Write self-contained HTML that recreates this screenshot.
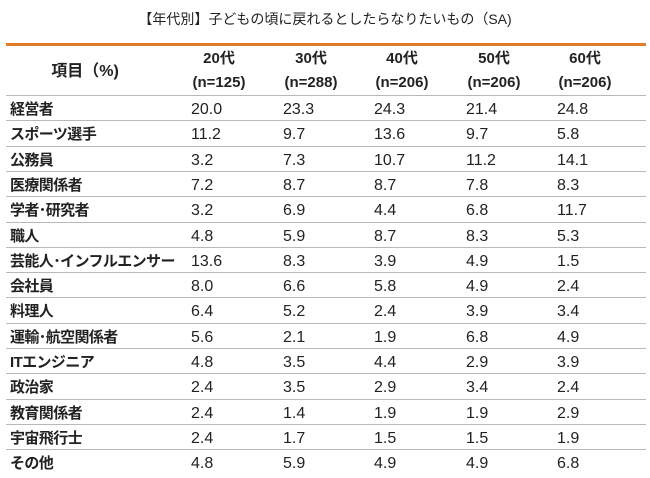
<!DOCTYPE html>
<html><head><meta charset="utf-8">
<style>
body{margin:0;width:650px;height:478px;background:#fff;font-family:"Liberation Sans","Noto Sans CJK JP",sans-serif;color:#222;position:relative;overflow:hidden}
.t{position:absolute;top:9px;left:0;width:650px;text-align:center;font-size:14px}
.ol{position:absolute;left:6px;top:43px;width:640px;height:3px;background:#e07b2a}
.hd{position:absolute;font-weight:bold;font-size:15px;text-align:center;line-height:24px}
.row{position:absolute;left:6px;width:640px;height:25px;border-top:1px solid #b8b8b8}
.lab{position:absolute;left:4px;top:1px;line-height:25px;font-weight:bold;font-size:15px;letter-spacing:-0.6px;white-space:nowrap}
.v{position:absolute;top:1px;line-height:25px;font-size:16px}
</style></head><body>
<div class="t">【年代別】子どもの頃に戻れるとしたらなりたいもの（SA)</div>
<div class="ol"></div>
<div id="tbl"></div>
<script>
const cols=["20代","30代","40代","50代","60代"];
const ns=["(n=125)","(n=288)","(n=206)","(n=206)","(n=206)"];
const items=["経営者","スポーツ選手","公務員","医療関係者","学者･研究者","職人","芸能人･インフルエンサー","会社員","料理人","運輸･航空関係者","ITエンジニア","政治家","教育関係者","宇宙飛行士","その他"];
const vals=[["20.0","23.3","24.3","21.4","24.8"],["11.2","9.7","13.6","9.7","5.8"],["3.2","7.3","10.7","11.2","14.1"],["7.2","8.7","8.7","7.8","8.3"],["3.2","6.9","4.4","6.8","11.7"],["4.8","5.9","8.7","8.3","5.3"],["13.6","8.3","3.9","4.9","1.5"],["8.0","6.6","5.8","4.9","2.4"],["6.4","5.2","2.4","3.9","3.4"],["5.6","2.1","1.9","6.8","4.9"],["4.8","3.5","4.4","2.9","3.9"],["2.4","3.5","2.9","3.4","2.4"],["2.4","1.4","1.9","1.9","2.9"],["2.4","1.7","1.5","1.5","1.9"],["4.8","5.9","4.9","4.9","6.8"]];
const tbl=document.getElementById('tbl');
const colX=[191,283,374,466,557];
let h=document.createElement('div');h.className='hd';h.style.left='20px';h.style.top='60px';h.style.width='130px';h.style.fontSize='16px';h.textContent='項目（%)';


tbl.appendChild(h);
cols.forEach((c,i)=>{const d=document.createElement('div');d.className='hd';d.style.left=(colX[i]-18)+'px';d.style.top='47px';d.style.width='92px';d.innerHTML=c+'<br>'+ns[i];


tbl.appendChild(d);});
items.forEach((it,r)=>{const row=document.createElement('div');row.className='row';row.style.top=(95+r*25.3)+'px';


const l=document.createElement('div');l.className='lab';l.textContent=it;


row.appendChild(l);
vals[r].forEach((v,i)=>{const c=document.createElement('div');c.className='v';c.style.left=(colX[i]-6)+'px';c.textContent=v;


row.appendChild(c);});
tbl.appendChild(row);});
</script>
</body></html>
